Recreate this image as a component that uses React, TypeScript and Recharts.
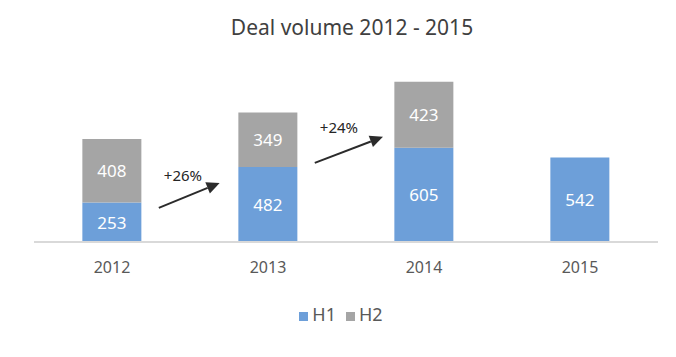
import React from 'react';
import { BarChart, Bar, XAxis, YAxis, Legend, LabelList, ReferenceLine } from 'recharts';

const years = ['2012', '2013', '2014', '2015'];
const h1Values = [253, 482, 605, 542];
const h2Values: (number | null)[] = [408, 349, 423, null];

const growthLabels = ['+26%', '+24%'];
const arrowFrom = ['2012', '2013'];
const arrowTo = ['2013', '2014'];
const arrowStartValues = [219, 508];
const arrowEndValues = [379, 675];
const labelValues = [431, 740];

const data = years.map((y, i) => ({ year: y, H1: h1Values[i], H2: h2Values[i] }));

const FONT = '"Noto Sans", "Open Sans", sans-serif';
const BLUE = '#6D9FD9';
const GRAY = '#A5A5A5';

const renderCenterLabel = (props: any) => {
  const { x, y, width, height, value } = props;
  if (value == null || value === '') return null;
  return (
    <text
      x={x + width / 2}
      y={y + height / 2}
      textAnchor="middle"
      dominantBaseline="central"
      fill="#FFFFFF"
      fontSize={17}
      fontFamily={FONT}
    >
      {value}
    </text>
  );
};

const makeArrowShape = (label: string, endFrac: number, labelY: () => number) => (props: any) => {
  const { x1, y1, x2, y2 } = props;
  const dx = x2 - x1;
  const sx = x1 + dx * 0.3;
  const ex = x1 + dx * endFrac;
  const ang = Math.atan2(y2 - y1, ex - sx);
  const head = 13;
  const hw = 6;
  const bx = ex - head * Math.cos(ang);
  const by = y2 - head * Math.sin(ang);
  const px = -Math.sin(ang) * hw;
  const py = Math.cos(ang) * hw;
  return (
    <g>
      <line x1={sx} y1={y1} x2={bx} y2={by} stroke="#2b2b2b" strokeWidth={2} />
      <polygon
        points={`${ex},${y2} ${bx + px},${by + py} ${bx - px},${by - py}`}
        fill="#2b2b2b"
      />
      <text
        x={x1 + dx * 0.455}
        y={labelY()}
        textAnchor="middle"
        dominantBaseline="central"
        fill="#262626"
        fontSize={15}
        fontFamily={FONT}
      >
        {label}
      </text>
    </g>
  );
};

const arrowEndFracs = [0.69, 0.737];

export default function App() {
  const plotTop = 55;
  const plotBottom = 242;
  const domainMax = 1200;
  const toY = (v: number) => plotBottom - (v / domainMax) * (plotBottom - plotTop);

  return (
    <div style={{ position: 'absolute', left: 0, top: 0, width: 676, height: 357, background: '#fff' }}>
      <div
        style={{
          position: 'absolute',
          left: 0,
          top: 13,
          width: 704,
          textAlign: 'center',
          fontFamily: FONT,
          fontSize: 21,
          color: '#404040',
        }}
      >
        Deal volume 2012 - 2015
      </div>
      <BarChart
        width={676}
        height={357}
        data={data}
        margin={{ top: plotTop, right: 18, left: 34, bottom: 29 }}
        barCategoryGap="31%"
      >
        <XAxis
          dataKey="year"
          axisLine={{ stroke: '#D9D9D9', strokeWidth: 2 }}
          tickLine={false}
          height={60}
          tickMargin={14}
          tick={{ fill: '#595959', fontSize: 16, fontFamily: FONT }}
        />
        <YAxis hide domain={[0, domainMax]} />
        <Legend
          verticalAlign="bottom"
          align="center"
          iconType="square"
          iconSize={9}
          height={26}
          wrapperStyle={{ fontFamily: FONT, fontSize: 18 }}
          formatter={(value: string) => <span style={{ color: '#595959' }}>{value}</span>}
        />
        <Bar dataKey="H1" stackId="a" fill={BLUE} isAnimationActive={false}>
          <LabelList dataKey="H1" content={renderCenterLabel} />
        </Bar>
        <Bar dataKey="H2" stackId="a" fill={GRAY} isAnimationActive={false}>
          <LabelList dataKey="H2" content={renderCenterLabel} />
        </Bar>
        {growthLabels.map((lbl, i) => (
          <ReferenceLine
            key={lbl}
            segment={[
              { x: arrowFrom[i], y: arrowStartValues[i] },
              { x: arrowTo[i], y: arrowEndValues[i] },
            ]}
            ifOverflow="visible"
            shape={makeArrowShape(lbl, arrowEndFracs[i], () => toY(labelValues[i]))}
          />
        ))}
      </BarChart>
    </div>
  );
}
